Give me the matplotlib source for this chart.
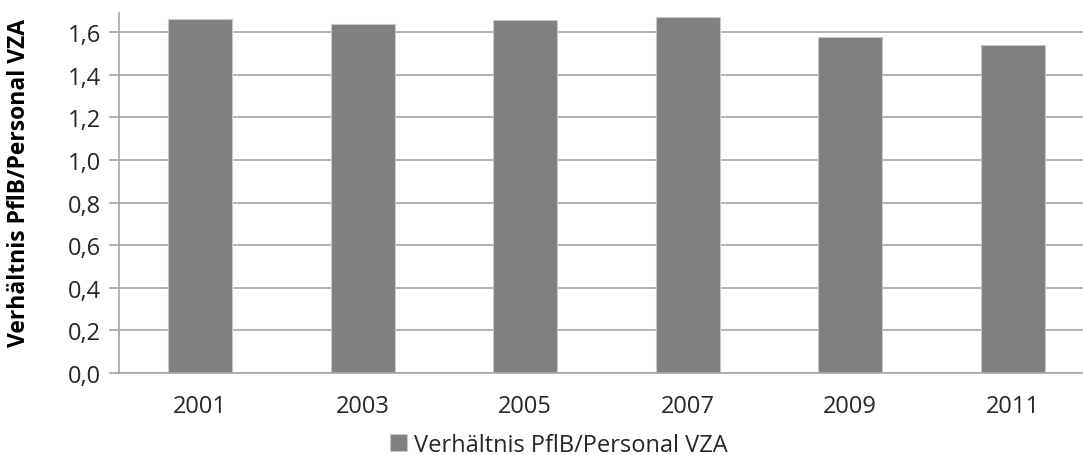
import matplotlib
matplotlib.use("Agg")
import matplotlib.pyplot as plt
from matplotlib.ticker import FuncFormatter

years = ["2001", "2003", "2005", "2007", "2009", "2011"]
ratio = [1.662, 1.638, 1.657, 1.674, 1.579, 1.541]
series_name = "Verhältnis PflB/Personal VZA"
y_ticks = [0.0, 0.2, 0.4, 0.6, 0.8, 1.0, 1.2, 1.4, 1.6]

plt.rcParams["font.family"] = ["Open Sans", "DejaVu Sans"]

W, H = 1083, 456
fig = plt.figure(figsize=(W / 100, H / 100), dpi=100)
ax = fig.add_axes([119 / W, (H - 374) / H, 975 / W, 360.5 / H])

x = list(range(len(years)))
bars = ax.bar(x, ratio, width=0.394, color="#808080", edgecolor="#c8c8c8",
              linewidth=0.8, zorder=3, label=series_name)

ax.set_xlim(-0.5, len(years) - 0.5)
ax.set_ylim(0, 1.693)
ax.set_yticks(y_ticks)
ax.yaxis.set_major_formatter(FuncFormatter(lambda v, p: f"{v:.1f}".replace(".", ",")))
ax.set_xticks(x)
ax.set_xticklabels(years)

ax.grid(axis="y", color="#a6a6a6", linewidth=1.2, zorder=0)
for side in ("top", "right"):
    ax.spines[side].set_visible(False)
for side in ("left", "bottom"):
    ax.spines[side].set_color("#a6a6a6")
    ax.spines[side].set_linewidth(1.2)
ax.spines["bottom"].set_zorder(4)

ax.tick_params(axis="y", length=7, width=1.2, color="#a6a6a6", labelsize=17,
               labelcolor="#262626", pad=6)
ax.tick_params(axis="x", length=0, labelsize=17, labelcolor="#262626", pad=15)

fig.text(19 / W, 1 - 183 / H, series_name, rotation=90, fontsize=16.5,
         fontweight="bold", color="#000000", ha="center", va="center")

ax.legend(loc="center", bbox_to_anchor=(559 / W, 1 - 446 / H),
          bbox_transform=fig.transFigure, frameon=False, fontsize=17,
          handlelength=0.7, handleheight=0.7, handletextpad=0.3,
          borderpad=0.1, labelcolor="#262626")

fig.savefig("out.png", dpi=100)
